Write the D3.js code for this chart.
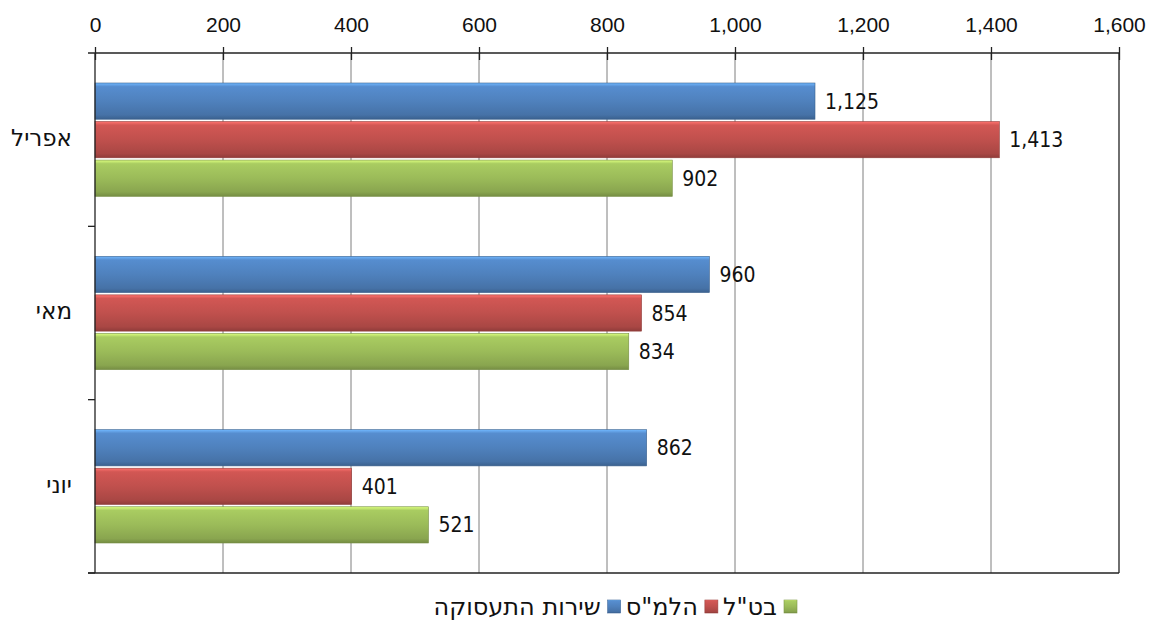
<!DOCTYPE html>
<html><head><meta charset="utf-8">
<script src="https://cdn.jsdelivr.net/npm/d3@7"></script>
<style>body{margin:0;background:#fff;}svg{display:block;font-family:"DejaVu Sans Condensed","DejaVu Sans",Verdana,sans-serif;}.heb{font-family:"DejaVu Sans",sans-serif;}</style>
</head><body><svg id="c" width="1151" height="620"></svg>
<script>
const categories = ["אפריל","מאי","יוני"];
const seriesNames = ["שירות התעסוקה","הלמ\"ס","בט\"ל"];
const seriesColors = ["#4f81bd","#c0504d","#9bbb59"];
const valuesTaasuka = [1125, 960, 862];
const valuesLamas = [1413, 854, 401];
const valuesBituah = [902, 834, 521];
const xTicks = [0,200,400,600,800,1000,1200,1400,1600];
const seriesValues = [valuesTaasuka, valuesLamas, valuesBituah];

const svg = d3.select("#c");
const L=95, R=1119, T=53, B=573;
const FS = 21, HFS = 23, LFS = 24;
const x = d3.scaleLinear().domain([0,1600]).range([L,R]);
const y = d3.scaleBand().domain(categories).range([T,B]).paddingInner(0).paddingOuter(0);
const yInner = d3.scaleBand().domain(d3.range(3)).range([30, y.bandwidth()-30]).paddingInner(0.06).paddingOuter(0);

const defs = svg.append("defs");
seriesColors.forEach((c,i)=>{
  const g = defs.append("linearGradient").attr("id","g"+i).attr("x1",0).attr("y1",0).attr("x2",0).attr("y2",1);
  const col = d3.color(c);
  g.append("stop").attr("offset","0%").attr("stop-color",col.brighter(1.0));
  g.append("stop").attr("offset","10%").attr("stop-color",col.brighter(0.25));
  g.append("stop").attr("offset","50%").attr("stop-color",c);
  g.append("stop").attr("offset","88%").attr("stop-color",col.darker(0.35));
  g.append("stop").attr("offset","100%").attr("stop-color",col.darker(0.8));
});

// gridlines
svg.append("g").selectAll("line").data(xTicks.slice(1,-1)).join("line")
  .attr("x1",d=>x(d)).attr("x2",d=>x(d)).attr("y1",T).attr("y2",B)
  .attr("stroke","#7f7f7f").attr("stroke-width",1);
// right border
svg.append("line").attr("x1",R).attr("x2",R).attr("y1",T).attr("y2",B).attr("stroke","#222").attr("stroke-width",1.3);

// bars
categories.forEach((cat,ci)=>{
  seriesValues.forEach((vals,si)=>{
    const v = vals[ci];
    const y0 = y(cat)+yInner(si);
    const h = yInner.bandwidth();
    svg.append("rect").attr("x",x(0)).attr("y",y0).attr("width",x(v)-x(0)).attr("height",h)
      .attr("fill","url(#g"+si+")").attr("stroke",d3.color(seriesColors[si]).darker(0.8)).attr("stroke-width",0.6);
    svg.append("text").attr("x",x(v)+10).attr("y",y0+h/2).attr("dy","0.36em")
      .attr("font-size",FS).attr("fill","#111").text(d3.format(",")(v));
  });
});

// top axis
const xa = svg.append("g").attr("transform",`translate(0,${T})`)
  .call(d3.axisTop(x).tickValues(xTicks).tickFormat(d3.format(",")).tickSize(7).tickSizeOuter(0));
xa.select(".domain").attr("stroke","#222").attr("stroke-width",1.3).attr("d",`M${L-7},0H${R}`);
xa.selectAll(".tick line").attr("stroke","#222").attr("stroke-width",1.3).attr("y2",7).attr("y1",-6);
xa.selectAll("text").attr("font-size",FS).attr("fill","#111").attr("y",-21).attr("font-family",null);

// left axis
svg.append("line").attr("x1",L).attr("x2",L).attr("y1",T).attr("y2",B).attr("stroke","#222").attr("stroke-width",1.3);
const sep = [y(categories[1]), y(categories[2]), B];
svg.append("g").selectAll("line").data(sep).join("line")
  .attr("x1",L-7).attr("x2",L).attr("y1",d=>d).attr("y2",d=>d).attr("stroke","#222").attr("stroke-width",1.3);
svg.append("line").attr("x1",L-7).attr("x2",R).attr("y1",B).attr("y2",B).attr("stroke","#222").attr("stroke-width",1.3);
svg.append("g").selectAll("text").data(categories).join("text").attr("class","heb")
  .attr("x",72).attr("y",d=>y(d)+y.bandwidth()/2).attr("dy","0.28em")
  .attr("text-anchor","end").attr("font-size",HFS).attr("fill","#111").text(d=>d);

// legend: from right to left, last series first
const leg = svg.append("g");
let cx = 797;
[2,1,0].forEach(i=>{
  leg.append("rect").attr("x",cx-13).attr("y",600).attr("width",13).attr("height",13)
    .attr("fill","url(#g"+i+")").attr("stroke",d3.color(seriesColors[i]).darker(0.6)).attr("stroke-width",0.6);
  const t = leg.append("text").attr("class","heb").attr("x",cx-20).attr("y",607).attr("dy","0.34em").attr("text-anchor","end")
    .attr("font-size",LFS).attr("fill","#111").text(seriesNames[i]);
  const w = t.node().getComputedTextLength();
  cx = cx - 20 - w - 5;
});
</script></body></html>
